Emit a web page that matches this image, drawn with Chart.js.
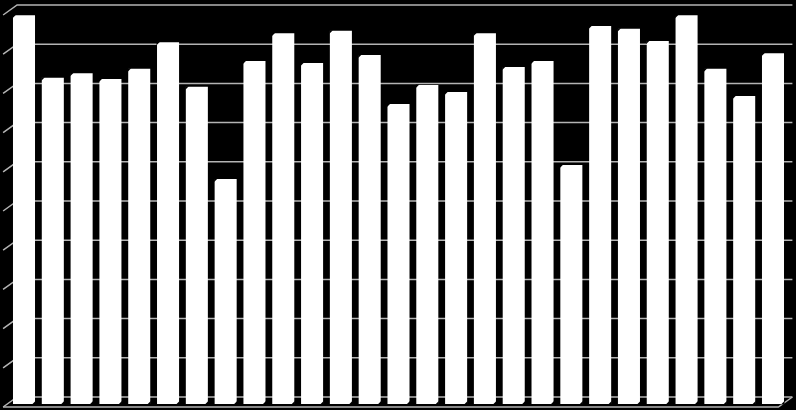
<!DOCTYPE html>
<html>
<head>
<meta charset="utf-8">
<script src="https://cdn.jsdelivr.net/npm/chart.js@4/dist/chart.umd.min.js"></script>
<style>
  html, body { margin: 0; padding: 0; background: #000; }
  #wrap { width: 796px; height: 410px; position: relative; }
</style>
</head>
<body>
<div id="wrap"><canvas id="c" width="796" height="410"></canvas></div>
<script>
const categories = ["1","2","3","4","5","6","7","8","9","10","11","12","13","14","15","16","17","18","19","20","21","22","23","24","25","26","27"];
const values = [99.2, 83.2, 84.4, 82.9, 85.5, 92.3, 80.9, 57.4, 87.5, 94.6, 87.0, 95.2, 89.0, 76.5, 81.4, 79.6, 94.6, 86.0, 87.5, 61.0, 96.4, 95.7, 92.6, 99.2, 85.5, 78.6, 89.5];
const yTicks = [0, 10, 20, 30, 40, 50, 60, 70, 80, 90, 100];

const GRID = '#b4b4b4';
const DX = 14, DY = 10;   // depth projection of walls
const BACK = 7;           // front plane to back wall vertical offset

const bgPlugin = {
  id: 'bg',
  beforeDraw(chart) {
    const ctx = chart.ctx;
    ctx.save();
    ctx.fillStyle = '#000';
    ctx.fillRect(0, 0, chart.width, chart.height);
    ctx.restore();
  },
  beforeDatasetsDraw(chart) {
    const ctx = chart.ctx;
    const y = chart.scales.y;
    const ca = chart.chartArea;
    const left = ca.left + 7.5, right = ca.right + 5;
    ctx.save();
    ctx.strokeStyle = GRID;
    ctx.lineWidth = 1.5;
    yTicks.forEach(v => {
      const py = y.getPixelForValue(v) - BACK;
      ctx.beginPath();
      ctx.moveTo(left - DX, py + DY);
      ctx.lineTo(left, py);
      ctx.lineTo(right, py);
      ctx.stroke();
    });
    // floor
    const by = y.getPixelForValue(0) - BACK;
    ctx.beginPath();
    ctx.moveTo(left - DX, by + DY);
    ctx.lineTo(right - DX, by + DY);
    ctx.lineTo(right, by);
    ctx.stroke();
    ctx.restore();
  },
  afterDatasetsDraw(chart) {
    const ctx = chart.ctx;
    const meta = chart.getDatasetMeta(0);
    ctx.save();
    ctx.fillStyle = '#000';
    meta.data.forEach(bar => {
      const p = bar.getProps(['x', 'y', 'base', 'width'], true);
      const x0 = p.x - p.width / 2, x1 = p.x + p.width / 2;
      // top-left chamfer
      ctx.beginPath();
      ctx.moveTo(x0 - 0.5, p.y - 0.5);
      ctx.lineTo(x0 + 3, p.y - 0.5);
      ctx.lineTo(x0 - 0.5, p.y + 3);
      ctx.closePath();
      ctx.fill();
      // bottom-right chamfer
      ctx.beginPath();
      ctx.moveTo(x1 + 0.5, p.base + 0.5);
      ctx.lineTo(x1 - 3, p.base + 0.5);
      ctx.lineTo(x1 + 0.5, p.base - 3);
      ctx.closePath();
      ctx.fill();
    });
    ctx.restore();
  }
};

new Chart(document.getElementById('c'), {
  type: 'bar',
  data: {
    labels: categories,
    datasets: [{
      data: values,
      backgroundColor: '#ffffff',
      borderWidth: 0,
      barPercentage: 0.85,
      categoryPercentage: 0.9
    }]
  },
  options: {
    responsive: false,
    animation: false,
    events: [],
    layout: { padding: { top: 12, bottom: 6, left: 9.6, right: 8.6 } },
    plugins: { legend: { display: false }, tooltip: { enabled: false }, title: { display: false } },
    scales: {
      x: { display: false, offset: true },
      y: { display: false, min: 0, max: 100, ticks: { stepSize: 10 } }
    }
  },
  plugins: [bgPlugin]
});
</script>
</body>
</html>
